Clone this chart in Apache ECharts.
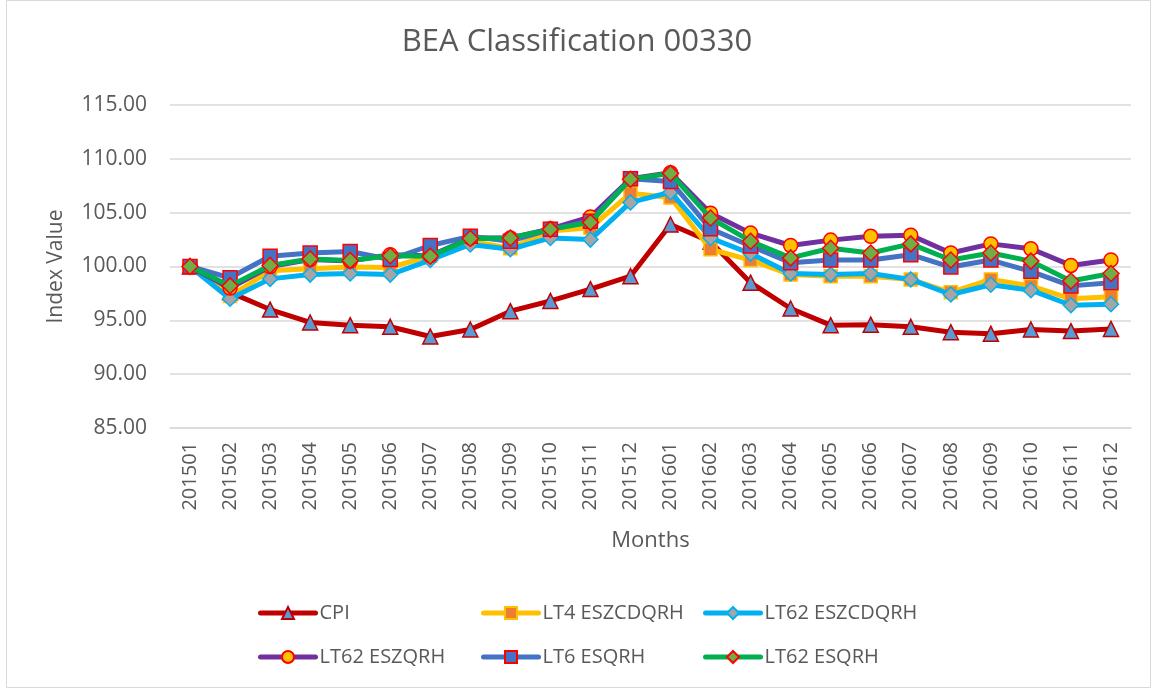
<!DOCTYPE html>
<html><head><meta charset="utf-8">
<script src="https://cdn.jsdelivr.net/npm/echarts@6/dist/echarts.min.js"></script>
<style>html,body{margin:0;padding:0;background:#fff}#c{width:1154px;height:690px}</style>
</head><body><div id="c"></div>
<script>
const categories = ['201501','201502','201503','201504','201505','201506','201507','201508','201509','201510','201511','201512','201601','201602','201603','201604','201605','201606','201607','201608','201609','201610','201611','201612'];
const cpi       = [100, 97.6, 96.0, 94.8, 94.55, 94.4, 93.5, 94.15, 95.85, 96.8, 97.9, 99.1, 103.9, 102.3, 98.5, 96.1, 94.55, 94.6, 94.4, 93.9, 93.75, 94.15, 94.0, 94.2];
const lt4Eszcd  = [100, 97.25, 99.6, 99.8, 99.95, 99.9, 101.0, 102.35, 101.7, 103.3, 103.6, 106.8, 106.4, 101.6, 100.6, 99.25, 99.1, 99.1, 98.8, 97.6, 98.8, 98.2, 97.0, 97.2];
const lt62Eszcd = [100, 97.0, 98.85, 99.25, 99.35, 99.25, 100.6, 102.05, 101.6, 102.65, 102.5, 105.95, 106.9, 102.65, 101.2, 99.35, 99.25, 99.35, 98.8, 97.4, 98.3, 97.8, 96.4, 96.5];
const lt62Eszq  = [100, 98.0, 100.0, 100.65, 100.5, 101.1, 101.0, 102.65, 102.65, 103.5, 104.6, 108.15, 108.7, 104.95, 103.1, 101.95, 102.45, 102.8, 102.9, 101.25, 102.1, 101.65, 100.1, 100.6];
const lt6Esq    = [100, 98.95, 100.95, 101.25, 101.4, 100.65, 101.95, 102.8, 102.35, 103.45, 104.2, 108.15, 107.9, 103.5, 101.9, 100.35, 100.6, 100.6, 101.1, 99.95, 100.6, 99.55, 98.2, 98.5];
const lt62Esq   = [100, 98.2, 100.1, 100.7, 100.55, 101.0, 100.95, 102.6, 102.65, 103.45, 104.1, 108.1, 108.65, 104.5, 102.35, 100.8, 101.7, 101.25, 102.1, 100.6, 101.25, 100.5, 98.65, 99.35];
const seriesNames = ['CPI','LT4 ESZCDQRH','LT62 ESZCDQRH','LT62 ESZQRH','LT6 ESQRH','LT62 ESQRH'];
const yTicks = {min: 85, max: 115, interval: 5};

const FONT = '"Open Sans", "Liberation Sans", sans-serif';
const TXT = '#595959';
const styles = [
  {data: cpi,       line:'#c00000', fill:'#5b9bd5', border:'#c00000', symbol:'triangle', size:15},
  {data: lt4Eszcd,  line:'#ffc000', fill:'#ed7d31', border:'#ffc000', symbol:'rect', size:13},
  {data: lt62Eszcd, line:'#00b0f0', fill:'#a5a5a5', border:'#00b0f0', symbol:'diamond', size:15},
  {data: lt62Eszq,  line:'#7030a0', fill:'#ffc000', border:'#ff0000', symbol:'circle', size:14},
  {data: lt6Esq,    line:'#4472c4', fill:'#4472c4', border:'#ff0000', symbol:'rect', size:14},
  {data: lt62Esq,   line:'#00b050', fill:'#70ad47', border:'#ff0000', symbol:'diamond', size:16}
];
const series = styles.map((s,i)=>({
  name: seriesNames[i], type:'line', data: s.data, symbol: s.symbol, symbolSize: s.size,
  lineStyle:{color:s.line, width:5}, itemStyle:{color:s.fill, borderColor:s.border, borderWidth:1.5},
  z: 2+i, animation:false
}));
const legPos = [[258,603],[481,603],[703,603],[258,647],[481,647],[703,647]];
const legends = seriesNames.map((n,i)=>({
  data:[n], left: legPos[i][0], top: legPos[i][1], padding:0, itemWidth: 55, itemHeight: 15, itemGap: 0,
  lineStyle:{width:5, cap:'round'},
  textStyle:{fontFamily:FONT, fontSize:20, lineHeight:20, color:TXT, padding:[0,0,0,-1]}
}));
const chart = echarts.init(document.getElementById('c'));
chart.setOption({
  backgroundColor:'#fff',
  animation:false,
  title:{text:'BEA Classification 00330', left:'center', top:22,
    textStyle:{fontFamily:FONT, fontSize:31, fontWeight:'normal', color:TXT}},
  legend: legends,
  grid:{left:170, right:23, top:105, bottom:262},
  xAxis:{type:'category', data:categories, boundaryGap:true,
    name:'Months', nameLocation:'middle', nameGap:102,
    nameTextStyle:{fontFamily:FONT, fontSize:22, color:TXT},
    axisLine:{lineStyle:{color:'#d9d9d9', width:1.5}}, axisTick:{show:false},
    axisLabel:{rotate:90, fontFamily:FONT, fontSize:20, color:TXT, margin:14, interval:0}},
  yAxis:{type:'value', min:yTicks.min, max:yTicks.max, interval:yTicks.interval,
    name:'Index Value', nameLocation:'middle', nameGap:103, nameRotate:90,
    nameTextStyle:{fontFamily:FONT, fontSize:21, color:TXT},
    axisLine:{show:false}, axisTick:{show:false},
    splitLine:{lineStyle:{color:'#d9d9d9', width:1.5}},
    axisLabel:{formatter:v=>v.toFixed(2), fontFamily:FONT, fontSize:21, color:TXT, margin:23}},
  graphic:[{type:'rect', shape:{x:6.5,y:0.5,width:1144,height:687}, style:{fill:'none', stroke:'#d9d9d9', lineWidth:1}, silent:true}],
  series: series
});
</script></body></html>
